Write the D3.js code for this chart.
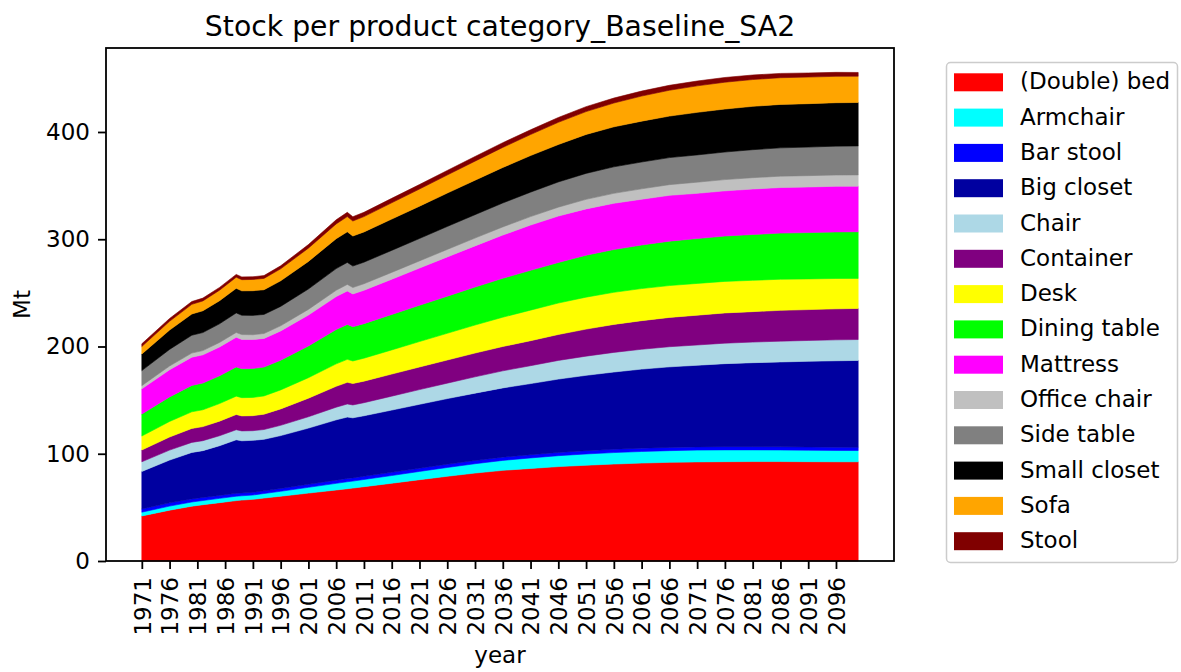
<!DOCTYPE html>
<html><head><meta charset="utf-8">
<script src="https://cdn.jsdelivr.net/npm/d3@7"></script>
<style>body{margin:0;background:#fff;} text{font-family:"DejaVu Sans",sans-serif;fill:#000;}</style>
</head><body><svg id="c" width="1181" height="672"></svg>
<script>
// ---- data (Mt) ----
const years = [1971,1976,1980,1982,1985,1988,1989,1991,1993,1996,2001,2006,2008,2009,2011,2016,2021,2026,2031,2036,2041,2046,2051,2056,2061,2066,2071,2076,2081,2086,2091,2096,2100];
const categories = ["(Double) bed","Armchair","Bar stool","Big closet","Chair","Container","Desk","Dining table","Mattress","Office chair","Side table","Small closet","Sofa","Stool"];
const colors = ["#ff0000","#00ffff","#0000ff","#0000a0","#add8e6","#800080","#ffff00","#00ff00","#ff00ff","#c0c0c0","#808080","#000000","#ffa500","#800000"];
const bed       = [42,47.4,51.1,52.5,54.4,56.3,56.8,57.5,58.7,60.4,63.3,66.2,67.4,68,69.3,72.5,75.8,79,82,84.5,86.3,88,89.3,90.4,91.3,92,92.4,92.6,92.7,92.7,92.6,92.5,92.5];
const armchair  = [3.5,3.8,3.9,3.9,4.0,4.1,4.0,4.0,4.2,4.6,5.4,6.2,6.5,6.5,6.7,7.2,7.7,8.2,8.7,9.3,9.8,10.2,10.5,10.7,10.8,10.9,11.0,11.0,10.9,10.8,10.7,10.6,10.5];
const barStool  = [3.0,3.0,2.9,2.8,2.7,2.7,2.6,2.5,2.5,2.6,2.8,3.0,3.1,3.0,3.0,3.0,3.0,3.0,3.0,3.0,3.0,3.0,3.1,3.1,3.1,3.0,3.0,3.0,3.0,3.0,3.0,3.0,3.0];
const bigCloset = [35,39.9,43.3,43.7,46.4,49.9,48.7,48.5,48.1,49.3,52.4,56.2,57.2,56,56.4,58.0,59.6,61.2,62.8,64.6,66.3,68.4,70.2,72.0,73.7,75.1,76.1,77.4,78.3,79.1,79.9,80.6,81];
const chair     = [9,9.3,9.4,9.3,9.3,9.4,9.2,9,9.1,9.6,10.6,11.8,12.2,12,12.2,13.0,13.7,14.4,15.2,15.9,16.7,17.4,17.9,18.3,18.5,18.8,18.9,19.1,19.2,19.4,19.4,19.5,19.5];
const container = [11,12.2,13.0,13.1,13.6,14.2,14.0,14,14.3,15.3,17.3,19.5,20.2,20,20.1,20.6,21.1,21.6,22.2,22.7,23.3,24.2,25.2,26.1,26.7,27.3,27.8,28.2,28.4,28.7,28.8,28.9,29];
const desk      = [13,14.5,15.5,15.7,16.4,17.1,17.0,17,17.0,17.7,19.1,20.9,21.4,21,21.4,22.5,23.7,24.9,26.1,27.3,28.5,29.3,29.8,29.9,29.9,29.7,29.6,29.4,29.2,29.0,28.6,28.3,28];
const dining    = [20.5,22.9,24.6,24.9,25.9,27.2,27.0,27,26.9,27.7,29.6,32.0,32.6,32,32.2,33.0,33.8,34.6,35.4,36.3,37.1,37.8,39.1,39.9,40.6,41.4,41.8,42.3,42.7,43.0,43.2,43.4,43.5];
const mattress  = [23.5,25.3,26.3,26.3,26.9,27.7,27.3,27,26.7,27.3,28.8,30.7,31.2,30.5,31.1,32.9,34.7,36.6,38.4,40.3,42.2,43.3,43.2,43.1,42.7,42.7,42.2,42.1,42.4,42.5,42.5,42.6,42.5];
const office    = [3,3.5,3.9,4.0,4.2,4.5,4.5,4.5,4.6,4.8,5.3,5.9,6.1,6,6.1,6.4,6.7,7.0,7.3,7.6,7.9,8.3,8.9,9.3,9.7,10.0,10.4,10.5,10.6,10.6,10.6,10.5,10.5];
const sideTable = [14,15.5,16.6,16.8,17.4,18.2,18.0,18,17.8,18.1,19.0,20.2,20.5,20,20.1,20.5,20.9,21.4,21.8,22.3,22.8,23.5,24.2,24.7,25.0,25.2,25.4,25.7,26.1,26.4,26.6,26.9,27];
const smallClos = [15.5,18.0,19.8,20.3,21.5,22.9,22.8,23,23.0,23.8,25.7,27.9,28.5,28,28.2,29.2,30.1,31.1,32.1,33.1,34.1,34.9,36.3,37.3,38.1,38.7,39.7,40.1,40.4,40.5,40.5,40.5,40.5];
const sofa      = [7,8.2,9.0,9.2,9.8,10.4,10.4,10.5,10.6,11.2,12.4,13.8,14.2,14,14.3,15.2,16.0,16.9,17.8,18.7,19.6,20.7,21.3,22.2,23.4,24.1,24.7,25.0,25.0,24.9,24.8,24.6,24.5];
const stool     = [2.5,2.6,2.6,2.6,2.6,2.6,2.6,2.5,2.6,2.8,3.3,3.8,4.0,4,4.0,4.1,4.2,4.2,4.3,4.4,4.4,4.5,4.6,4.6,4.6,4.6,4.5,4.4,4.2,4.0,3.8,3.7,3.5];
const tickYears = [1971,1976,1981,1986,1991,1996,2001,2006,2011,2016,2021,2026,2031,2036,2041,2046,2051,2056,2061,2066,2071,2076,2081,2086,2091,2096];
const yTicks = [0,100,200,300,400];

const series = [bed,armchair,barStool,bigCloset,chair,container,desk,dining,mattress,office,sideTable,smallClos,sofa,stool];
const table = years.map((yr,i)=>{const o={year:yr}; categories.forEach((c,k)=>o[c]=series[k][i]); return o;});

const svg = d3.select("#c");
const L=106,R=894,T=48,B=561;
const x = d3.scaleLinear().domain([1964.55,2106.45]).range([L,R]);
const y = d3.scaleLinear().domain([0,478.3]).range([B,T]);

const stacked = d3.stack().keys(categories)(table);
const area = d3.area().x(d=>x(d.data.year)).y0(d=>y(d[0])).y1(d=>y(d[1]));
svg.append("g").selectAll("path").data(stacked).join("path")
  .attr("d",area).attr("fill",(d,i)=>colors[i]).attr("stroke",(d,i)=>colors[i]).attr("stroke-width",0.6);

// axes
const fs = 23;
const gx = svg.append("g").attr("transform",`translate(0,${B})`)
  .call(d3.axisBottom(x).tickValues(tickYears).tickFormat(d3.format("d")).tickSize(8).tickSizeOuter(0));
gx.select(".domain").remove();
gx.selectAll(".tick line").attr("stroke","#000").attr("stroke-width",1.8);
gx.selectAll(".tick text").attr("font-size",fs).attr("font-family","DejaVu Sans")
  .attr("transform","rotate(-90)").attr("text-anchor","end").attr("x",-16).attr("y",0).attr("dy","0.36em");

const gy = svg.append("g").attr("transform",`translate(${L},0)`)
  .call(d3.axisLeft(y).tickValues(yTicks).tickSize(8).tickPadding(8).tickSizeOuter(0));
gy.select(".domain").remove();
gy.selectAll(".tick line").attr("stroke","#000").attr("stroke-width",1.8);
gy.selectAll(".tick text").attr("font-size",fs).attr("font-family","DejaVu Sans");

svg.append("rect").attr("x",L).attr("y",T).attr("width",R-L).attr("height",B-T)
  .attr("fill","none").attr("stroke","#000").attr("stroke-width",1.8);

// labels
svg.append("text").attr("x",(L+R)/2).attr("y",36).attr("text-anchor","middle").attr("font-size",28.3)
  .text("Stock per product category_Baseline_SA2");
svg.append("text").attr("x",(L+R)/2).attr("y",663).attr("text-anchor","middle").attr("font-size",fs).text("year");
svg.append("text").attr("transform",`translate(30,${(T+B)/2}) rotate(-90)`).attr("text-anchor","middle").attr("font-size",fs).text("Mt");

// legend
const lg = svg.append("g");
lg.append("rect").attr("x",946.5).attr("y",62.5).attr("width",231).attr("height",500).attr("rx",4)
  .attr("fill","#fff").attr("stroke","#cccccc").attr("stroke-width",1.5);
categories.forEach((c,i)=>{
  const ty = 73.3 + i*35.3;
  lg.append("rect").attr("x",954).attr("y",ty).attr("width",49).attr("height",18).attr("fill",colors[i]);
  lg.append("text").attr("x",1020).attr("y",ty+16).attr("font-size",fs).text(c);
});
</script></body></html>
